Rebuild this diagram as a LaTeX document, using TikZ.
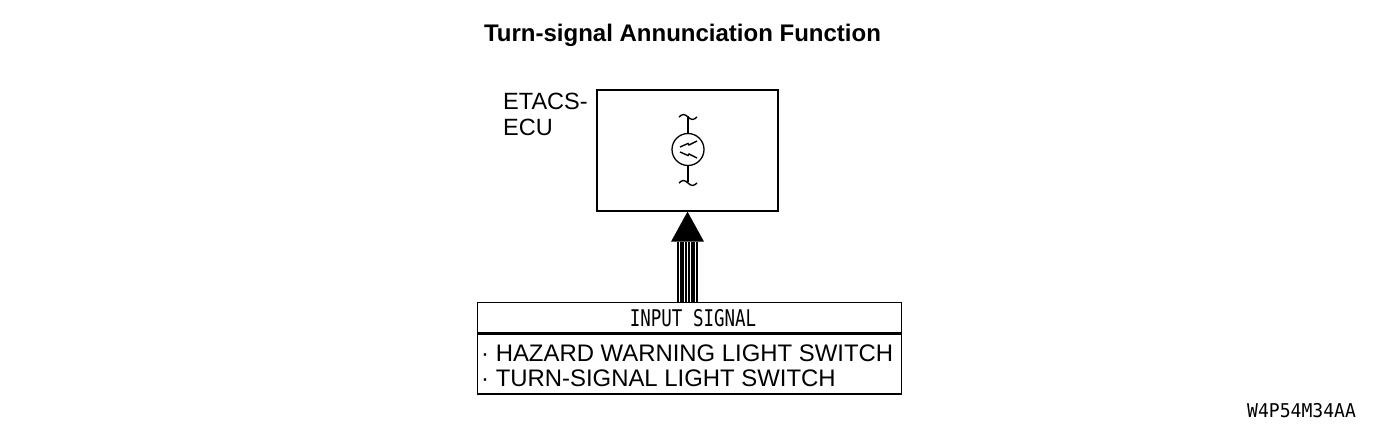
\documentclass[tikz,border=0pt]{standalone}
\usepackage{fontspec}
\setmainfont{Liberation Sans}
\newfontfamily\codefont[FakeStretch=0.76]{DejaVu Sans Mono}
\newfontfamily\tagfont[FakeStretch=0.95]{DejaVu Sans Mono}
\usetikzlibrary{positioning}

\tikzset{
    box/.style = {draw, line width = 1.3pt, inner sep = 0pt},
    label text/.style = {inner sep = 0pt, font = \fontsize{23.9pt}{25pt}\selectfont},
    shaftline/.style = {line width = 2.1pt},
}

\begin{document}
\begin{tikzpicture}[x = 1pt, y = 1pt]
            \useasboundingbox (0,0) rectangle (1400,432);
            \node[inner sep = 0pt, anchor = base, font = \fontsize{24pt}{25pt}\selectfont\bfseries] (title) at (682.5,390.3) {Turn-signal Annunciation Function};
            % ECU box and its flasher symbol
            \node[box, minimum width = 181pt, minimum height = 121pt] (ecu) at (687.5,281.5) {};
            \node[label text, anchor = base west, font = \fontsize{23.5pt}{25pt}\selectfont] (etacs) at (503,322) {ETACS-};
            \node[label text, anchor = base west, font = \fontsize{23.5pt}{25pt}\selectfont] (ecuname) at (503,297) {ECU};
            \node[draw, circle, line width = 1.3pt, minimum size = 32pt, inner sep = 0pt] (lamp) at (688,282.5) {};
            \coordinate (lamptop) at (688,316);
            \coordinate (lampbot) at (688,250);
            \begin{scope}[line width = 1.4pt]
                \draw (lamp.north) -- (lamptop);
                \draw (lamp.south) -- (lampbot);
                \draw (lamptop) ++(-9,-1) sin ++(4.5,2.5) cos ++(4.5,-2.5) sin ++(4.5,-2.5) cos ++(4.5,2.5);
                \draw (lampbot) ++(-9,-1) sin ++(4.5,2.5) cos ++(4.5,-2.5) sin ++(4.5,-2.5) cos ++(4.5,2.5);
                \draw ([shift = {(-8,2.5)}]lamp.center) -- ++(8,3.5) -- ++(1,-1.5) -- ++(8,4);
                \draw ([shift = {(-8,-2.5)}]lamp.center) -- ++(8,-3.5) -- ++(1,1.5) -- ++(8,-4);
            \end{scope}
            % input signal box
            \node[box, minimum width = 424pt, minimum height = 30pt, anchor = north west] (sighdr) at (477,130) {};
            \node[box, minimum width = 424pt, minimum height = 60pt, anchor = north west] (siglist) at (sighdr.south west) {};
            \node[inner sep = 0pt, anchor = base, font = \fontsize{23pt}{25pt}\codefont] (sigtitle) at (693,105.3) {INPUT SIGNAL};
            \node[label text, anchor = base west] (hazard) at (481,70.3) {· HAZARD WARNING LIGHT SWITCH};
            \node[label text, anchor = base west] (turnsw) at (481,45.3) {· TURN-SIGNAL LIGHT SWITCH};
            % arrow from the inputs to the ECU
            \coordinate (headbase) at ([yshift = -30pt]ecu.south);
            \fill (ecu.south) -- ([xshift = -16.5pt]headbase) -- ([xshift = 16.5pt]headbase) -- cycle;
            \foreach \i in {0,...,7} {
                \pgfmathsetmacro{\dx}{-9.5+\i*2.714}
                \coordinate (shaft\i) at ([xshift = \dx pt]headbase);
                \draw[shaftline] (shaft\i) -- (shaft\i |- sighdr.north);
            }
            \node[inner sep = 0pt, anchor = base west, font = \fontsize{19pt}{20pt}\tagfont] (tag) at (1247,15) {W4P54M34AA};
        \end{tikzpicture}
\end{document}
